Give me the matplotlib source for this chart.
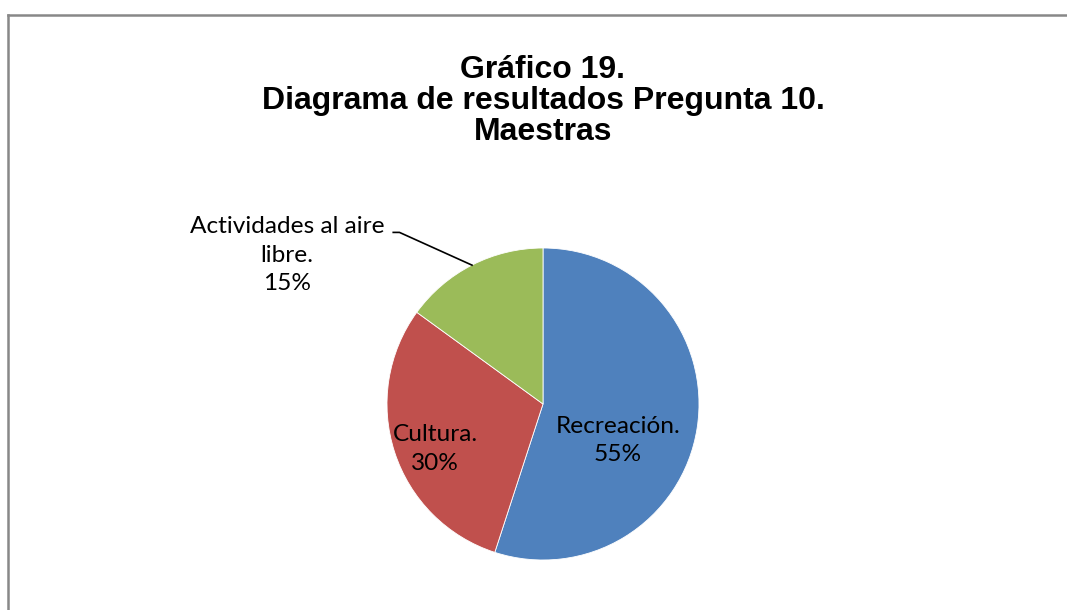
import matplotlib.pyplot as plt
from matplotlib.lines import Line2D

# --- datos ---
labels = ['Recreación.', 'Cultura.', 'Actividades al aire\nlibre.']
values = [55, 30, 15]
colors = ['#4F81BD', '#C0504D', '#9BBB59']

W, H = 1067, 610
fig = plt.figure(figsize=(W / 100, H / 100), dpi=100)
fig.set_facecolor('white')

# marco gris del area del grafico (izquierda y arriba)
fig.add_artist(Line2D([8 / W, 8 / W], [0, 1 - 15 / H], transform=fig.transFigure,
                      color='#888888', lw=1.8))
fig.add_artist(Line2D([8 / W, 1], [1 - 15 / H, 1 - 15 / H], transform=fig.transFigure,
                      color='#888888', lw=1.8))

# titulo
fig.text(543 / W, 1 - 101 / H, 'Gráfico 19.\nDiagrama de resultados Pregunta 10.\nMaestras',
         ha='center', va='center', fontsize=23, fontweight='bold',
         family='Liberation Sans', linespacing=1.05)

# pastel
cx, cy, r = 543, 404, 156
ax = fig.add_axes([(cx - r) / W, (H - cy - r) / H, 2 * r / W, 2 * r / H])
ax.pie(values, colors=colors, startangle=90, counterclock=False, radius=1,
       wedgeprops=dict(edgecolor='white', linewidth=0.6))
ax.set_xlim(-1, 1)
ax.set_ylim(-1, 1)
ax.set_aspect('auto')
ax.axis('off')

font = dict(family='Lato', fontsize=17.6, color='black', ha='center', va='center',
            linespacing=1.45)
ax.text(0.48, -0.235, f'{labels[0]}\n{values[0]}%', **font)
ax.text(-0.69, -0.29, f'{labels[1]}\n{values[1]}%', **font)
ax.text(-1.64, 0.955, f'{labels[2]}\n{values[2]}%', clip_on=False, **font)

# linea guia
ax.plot([-0.96, -0.92, -0.455], [1.10, 1.10, 0.89], color='black', lw=1.2, clip_on=False)

fig.savefig('out.png', dpi=100)
